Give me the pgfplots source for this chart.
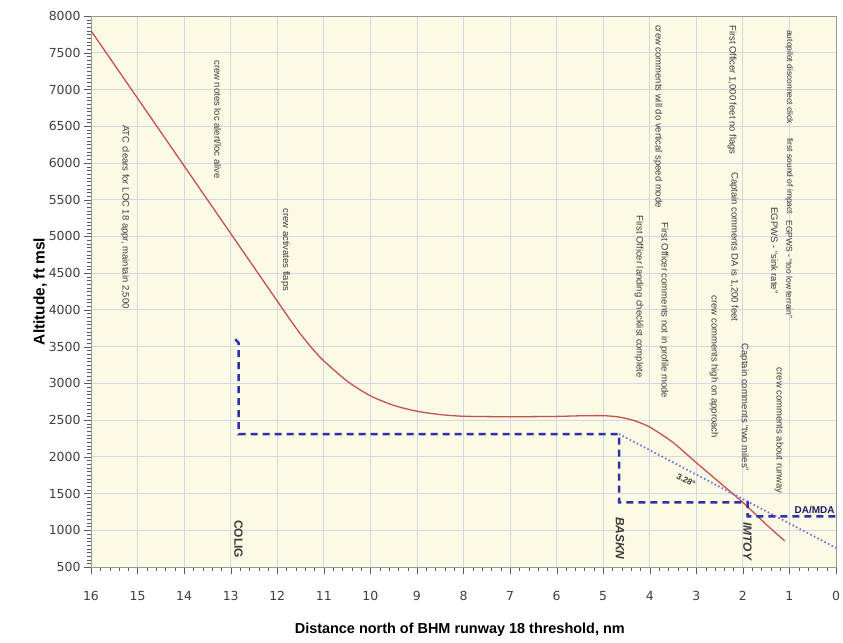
\documentclass[border=0pt]{standalone}
\usepackage{pgfplots}
\pgfplotsset{compat=1.18}
\usepackage{fontspec}
\setmainfont{Liberation Sans}
\newfontfamily\tickfont{DejaVu Sans}

\definecolor{bgcream}{RGB}{251,250,229}
\definecolor{gridlav}{RGB}{214,212,230}
\definecolor{pathred}{RGB}{196,82,82}
\definecolor{procblue}{RGB}{48,48,168}
\definecolor{gsblue}{RGB}{112,112,222}
\definecolor{notegray}{RGB}{60,60,60}

\begin{document}
\begin{tikzpicture}
\begin{axis}[
    scale only axis,
    width=745bp, height=551bp,
    xmin=0, xmax=16, x dir=reverse,
    ymin=500, ymax=8000,
    xtick={0,1,...,16},
    ytick={500,1000,...,8000},
    xtick pos=bottom, ytick pos=left,
    minor x tick num=4,
    minor y tick num=9,
    grid=major,
    major grid style={gridlav, line width=0.8bp},
    axis background/.style={fill=bgcream},
    axis line style={gray!80},
    tick align=outside,
    major tick length=7bp,
    minor tick length=4bp,
    tick style={gray!70!black},
    ticklabel style={font=\tickfont\fontsize{12.5}{13}\selectfont, text=black!75},
    xticklabel style={yshift=-14bp},
    /pgf/number format/assume math mode=true,
    /pgf/number format/1000 sep={},
    xlabel={Distance north of BHM runway 18 threshold, nm},
    ylabel={Altitude, ft msl},
    xlabel style={font=\fontsize{14.5}{15}\selectfont\bfseries,
        at={(axis description cs:0.495,-0.114)}, anchor=center},
    ylabel style={font=\fontsize{15.5}{16}\selectfont\bfseries,
        at={(axis description cs:-0.068,0.5)}, anchor=center},
]

% flight path
\addplot[pathred, line width=1.3bp, smooth, tension=0.4] coordinates {
    (16,7800) (15,6880) (14,5960) (13,5040) (12.5,4580) (12,4120)
    (11.75,3890) (11.5,3670) (11.25,3475) (11,3305) (10.5,3030)
    (10,2830) (9.5,2700) (9,2620) (8.5,2575) (8,2552) (7,2545)
    (6,2550) (5.5,2558) (5,2560) (4.7,2545) (4.5,2520) (4.3,2485)
    (4,2405) (3.5,2195) (3,1920) (2.5,1650) (2,1380) (1.5,1080) (1.1,855)
};

% published procedure
\addplot[procblue, line width=2.5bp, dash pattern=on 7bp off 5bp] coordinates {
    (12.9,3600) (12.83,3550) (12.83,2310) (4.66,2310) (4.66,1380)
    (1.9,1380) (1.9,1190) (0,1190)
};

% 3.28 degree glide path
\addplot[gsblue, line width=1.8bp, dash pattern=on 1.5bp off 2.5bp] coordinates {
    (4.66,2310) (0,760)
};

% fixes
\node[rotate=-90, font=\fontsize{12}{12}\selectfont\bfseries, text=notegray]
    at (axis cs:12.83,880) {COLIG};
\node[rotate=-90, font=\fontsize{12}{12}\selectfont\bfseries\itshape, text=notegray]
    at (axis cs:4.64,890) {BASKN};
\node[rotate=-90, font=\fontsize{12}{12}\selectfont\bfseries\itshape, text=notegray]
    at (axis cs:1.9,850) {IMTOY};
\node[font=\fontsize{10}{10}\selectfont\bfseries, text=procblue!60!black]
    at (axis cs:0.46,1280) {DA/MDA};
\node[rotate=-28, inner sep=0pt, font=\fontsize{8.5}{9}\selectfont\bfseries, text=notegray]
    at (axis cs:3.22,1680) {3.28\textdegree};

% cockpit voice recorder notes
\tikzset{cvr/.style={rotate=-90, anchor=west, inner sep=0pt,
    font=\fontsize{9.5}{9.5}\selectfont, text=notegray}}
\node[cvr] at (axis cs:15.27,6514) {ATC clears for LOC 18 appr, maintain 2,500};
\node[cvr] at (axis cs:13.28,7400) {crew notes loc alert/loc alive};
\node[cvr] at (axis cs:11.82,5382) {crew activates flaps};
\node[cvr] at (axis cs:3.82,7877) {crew comments will do vertical speed mode};
\node[cvr] at (axis cs:3.69,5190) {First Officer comments not in profile mode};
\node[cvr] at (axis cs:4.23,5286) {First Officer landing checklist complete};
\node[cvr] at (axis cs:2.23,7877) {First Officer 1,000 feet no flags};
\node[cvr] at (axis cs:2.19,5873) {Captain comments DA is 1,200 feet};
\node[cvr] at (axis cs:2.62,4195) {crew comments high on approach};
\node[cvr] at (axis cs:1.97,3540) {Captain comments ``two miles''};
\node[cvr, font=\fontsize{8.5}{8.5}\selectfont] at (axis cs:1.0,7809) {autopilot disconnect click};
\node[cvr, font=\fontsize{8.5}{8.5}\selectfont] at (axis cs:1.0,6336) {first sound of impact};
\node[cvr, font=\fontsize{8.5}{8.5}\selectfont] at (axis cs:1.0,5220) {EGPWS - ``too low terrain''};
\node[cvr] at (axis cs:1.32,5395) {EGPWS - ``sink rate''};
\node[cvr] at (axis cs:1.22,3213) {crew comments about runway};
\end{axis}
\pgfresetboundingbox
\path (-91bp,-76bp) rectangle (752bp,567bp);
\end{tikzpicture}
\end{document}
